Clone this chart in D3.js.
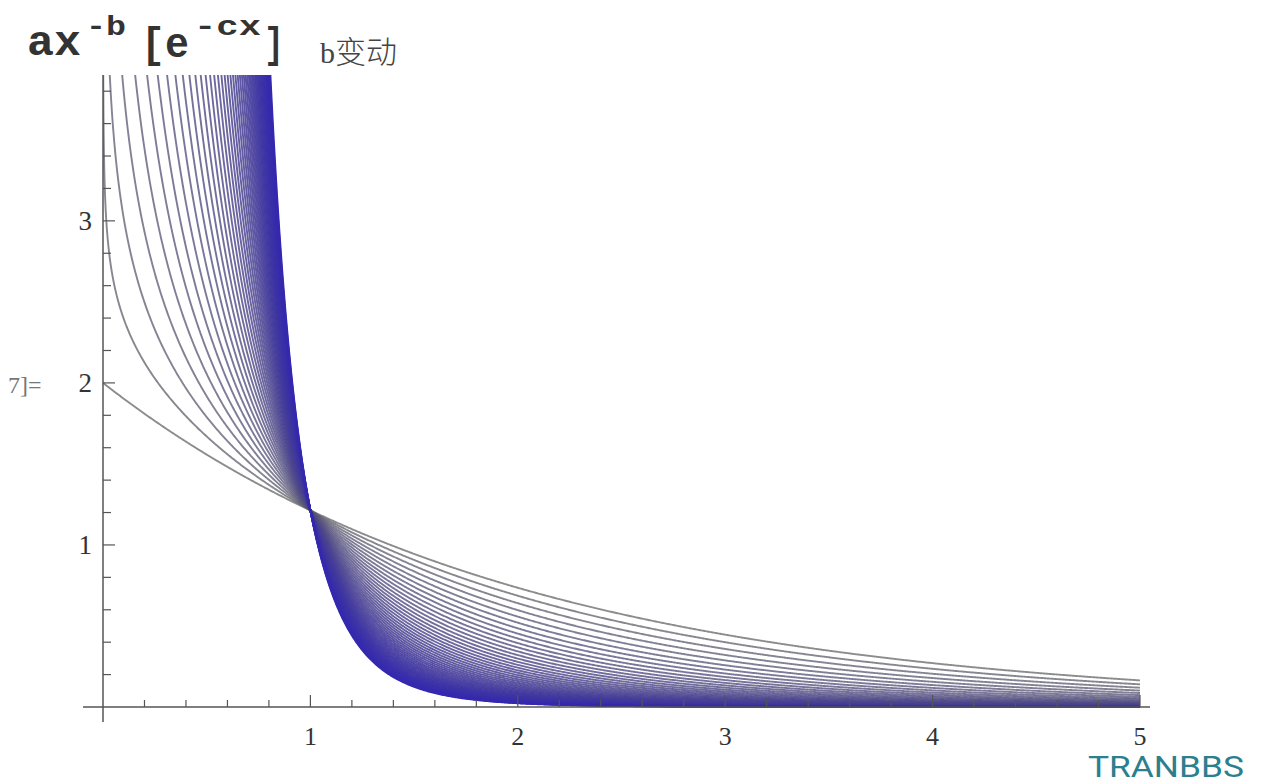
<!DOCTYPE html>
<html><head><meta charset="utf-8">
<script src="https://cdn.jsdelivr.net/npm/d3@7"></script>
<style>body{margin:0;background:#fff}svg{display:block}</style>
</head><body><svg id="c" width="1264" height="784"></svg>
<script>
// Parameters of y = a * x^-b * e^(-c x), b varied
const paramA = 2;
const paramC = 0.5;
const bValues = [0,0.1,0.2,0.3,0.4,0.5,0.6,0.7,0.8,0.9,1.0,1.1,1.2,1.3,1.4,1.5,1.6,1.7,1.8,1.9,2.0,2.1,2.2,2.3,2.4,2.5,2.6,2.7,2.8,2.9,3.0,3.1,3.2,3.3,3.4,3.5,3.6,3.7,3.8,3.9,4.0,4.1,4.2,4.3,4.4,4.5,4.6,4.7,4.8,4.9,5.0];
const xTicks = [1,2,3,4,5];
const yTicks = [1,2,3];
const xDomain = [0,5];
const yDomain = [0,3.9];

const svg = d3.select("#c");
const x = d3.scaleLinear().domain(xDomain).range([103,1140]);
const y = d3.scaleLinear().domain(yDomain).range([707,75]);

svg.append("clipPath").attr("id","clip").append("rect")
  .attr("x",x(0)).attr("y",y(yDomain[1])).attr("width",x(5)-x(0)+1).attr("height",y(0)-y(yDomain[1])+2);

const f = (xv,b)=> paramA*Math.pow(xv,-b)*Math.exp(-paramC*xv);
const xs = d3.range(0.0005,0.05,0.0005).concat(d3.range(0.05,5.0001,0.005));
const col = d3.interpolateRgb("#666666","#3428b0");
const line = d3.line().x(d=>x(d[0])).y(d=>y(Math.min(d[1],10)));

const g = svg.append("g").attr("clip-path","url(#clip)");
bValues.forEach((b,i)=>{
  const pts = (b===0? [0].concat(xs): xs).map(v=>[v,f(v,b)]);
  const t = i/(bValues.length-1);
  g.append("path").attr("d",line(pts)).attr("fill","none")
    .attr("stroke",col(Math.pow(t,0.6))).attr("stroke-width",1.9)
    .attr("stroke-opacity",0.75+0.25*t);
});

// axes
const ax = svg.append("g").attr("stroke","#555").attr("stroke-width",1.5);
ax.append("line").attr("x1",83).attr("x2",1150).attr("y1",y(0)).attr("y2",y(0));
ax.append("line").attr("x1",x(0)).attr("x2",x(0)).attr("y1",y(yDomain[1])).attr("y2",722);
const xMinor = d3.range(0.2,5.01,0.2);
xMinor.forEach(v=>{
  const major = Math.abs(v-Math.round(v))<1e-6;
  ax.append("line").attr("x1",x(v)).attr("x2",x(v)).attr("y1",y(0)).attr("y2",y(0)-(major?12:7)).attr("stroke-width",1.2);
});
const yMinor = d3.range(0.2,3.81,0.2);
yMinor.forEach(v=>{
  const major = Math.abs(v-Math.round(v))<1e-6;
  ax.append("line").attr("x1",x(0)).attr("x2",x(0)+(major?12:8)).attr("y1",y(v)).attr("y2",y(v)).attr("stroke-width",1.2);
});
svg.append("g").selectAll("text").data(xTicks).join("text")
  .attr("x",d=>x(d)).attr("y",745).attr("text-anchor","middle")
  .attr("font-family","Liberation Serif").attr("font-size",26).attr("fill","#333").text(d=>d);
svg.append("g").selectAll("text").data(yTicks).join("text")
  .attr("x",92).attr("y",d=>y(d)+9).attr("text-anchor","end")
  .attr("font-family","Liberation Serif").attr("font-size",27).attr("fill","#333").text(d=>d);

// title
const tt = svg.append("g").attr("font-family","Liberation Mono").attr("font-weight","bold").attr("fill","#333");
const part = (txt,xx,yy,fs,len)=> tt.append("text").attr("x",xx).attr("y",yy).attr("font-size",fs)
  .attr("textLength",len).attr("lengthAdjust","spacingAndGlyphs").text(txt);
part("ax",27,55,42,54);
part("-b",86,35,28,40);
part("[e",141,57,42,48);
part("-cx",194,35,28,67);
part("]",264,57,42,20);
svg.append("text").attr("x",320).attr("y",63).attr("font-size",30).attr("fill","#444")
  .attr("font-family","Liberation Serif, Noto Sans CJK SC").text("b")
  .append("tspan").attr("font-family","Noto Sans CJK SC").attr("font-size",31).attr("font-weight",300).text("变动");

svg.append("text").attr("x",8).attr("y",393).attr("font-family","Liberation Serif").attr("font-size",24).attr("fill","#777").text("7]=");
svg.append("text").attr("x",1088).attr("y",777).attr("font-family","Roboto").attr("font-size",30)
  .attr("textLength",156).attr("lengthAdjust","spacingAndGlyphs").attr("fill","#2b7f8e").text("TRANBBS");
</script></body></html>
